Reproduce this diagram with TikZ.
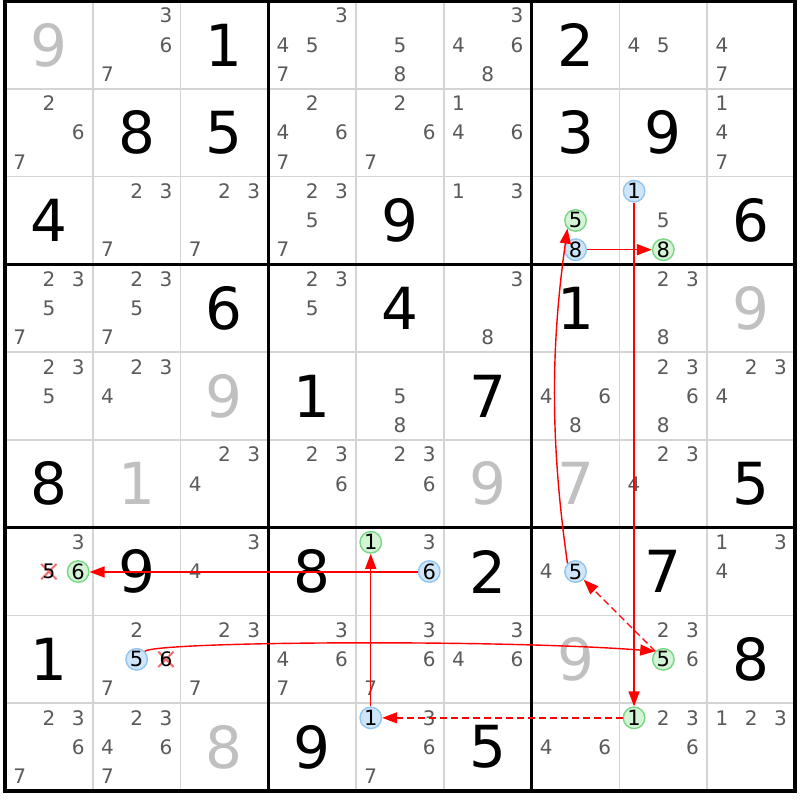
\documentclass[tikz,border=0pt]{standalone}
\usepackage{fontspec}
\setmainfont{DejaVu Sans}
\usetikzlibrary{arrows.meta}
\definecolor{candgray}{RGB}{90,90,90}
\definecolor{solvedgray}{RGB}{192,192,192}
\definecolor{gridgray}{RGB}{212,212,212}
\definecolor{bluefill}{RGB}{207,230,250}
\definecolor{blueline}{RGB}{145,198,240}
\definecolor{greenfill}{RGB}{212,244,214}
\definecolor{greenline}{RGB}{120,215,130}
\definecolor{crossred}{RGB}{240,110,110}
\definecolor{arrred}{RGB}{255,0,0}
\tikzset{
  cand/.style={inner sep=0pt, font=\fontsize{20}{20}\selectfont, text=candgray},
  given/.style={inner sep=0pt, font=\fontsize{58}{58}\selectfont, text=black},
  solved/.style={inner sep=0pt, font=\fontsize{58}{58}\selectfont, text=solvedgray},
  hibase/.style={circle, inner sep=0pt, minimum size=21.5pt, line width=1.4pt, font=\fontsize{21}{21}\selectfont, text=black},
  hiblue/.style={hibase, draw=blueline, fill=bluefill},
  higreen/.style={hibase, draw=greenline, fill=greenfill},
  crossbox/.style={inner sep=0pt, minimum size=15pt},
  crossd/.style={inner sep=0pt, font=\fontsize{20}{20}\selectfont, text=black},
  crossline/.style={draw=crossred, line width=2pt},
  thingrid/.style={draw=gridgray, line width=1.8pt},
  thickgrid/.style={draw=black, line width=3.6pt, line cap=rect},
  arr/.style={draw=arrred, line width=1.4pt, -{Triangle[length=15pt,width=11pt]}},
  dasharr/.style={dash pattern=on 7pt off 4pt}
}
\newcommand\candnodes[3]{%
  \foreach \d in {#3}{%
    \pgfmathsetmacro\px{5+#2*87.7778+14.6296+mod(\d-1,3)*29.2593}%
    \pgfmathsetmacro\py{1+#1*87.7778+14.6296+floor((\d-1)/3)*29.2593}%
    \node[cand] (k#1#2\d) at (\px,\py) {\d};
  }}
\newcommand\givennode[3]{%
  \pgfmathsetmacro\px{5+#2*87.7778+43.8889}%
  \pgfmathsetmacro\py{1+#1*87.7778+43.8889}%
  \node[given] (g#1#2) at (\px,\py) {#3};}
\newcommand\solvednode[3]{%
  \pgfmathsetmacro\px{5+#2*87.7778+43.8889}%
  \pgfmathsetmacro\py{1+#1*87.7778+43.8889}%
  \node[solved] (s#1#2) at (\px,\py) {#3};}
\newcommand\hinode[4]{%
  \pgfmathsetmacro\px{5+#2*87.7778+14.6296+mod(#3-1,3)*29.2593}%
  \pgfmathsetmacro\py{1+#1*87.7778+14.6296+floor((#3-1)/3)*29.2593}%
  \node[#4] (h#1#2#3) at (\px,\py) {#3};}
\newcommand\crossnode[3]{%
  \pgfmathsetmacro\px{5+#2*87.7778+14.6296+mod(#3-1,3)*29.2593}%
  \pgfmathsetmacro\py{1+#1*87.7778+14.6296+floor((#3-1)/3)*29.2593}%
  \node[crossbox] (xb#1#2#3) at (\px,\py) {};
  \draw[crossline] (xb#1#2#3.south west) -- (xb#1#2#3.north east)
                   (xb#1#2#3.north west) -- (xb#1#2#3.south east);
  \node[crossd] (x#1#2#3) at (xb#1#2#3.center) {#3};}
\begin{document}
\begin{tikzpicture}[x=1pt,y=-1pt]
\useasboundingbox (0,0) rectangle (800,800);
\fill[white] (0,0) rectangle (800,800);
% grid
\foreach \i in {1,2,4,5,7,8}{
  \draw[thingrid] (5+\i*87.7778,1) -- (5+\i*87.7778,791);
  \draw[thingrid] (5,1+\i*87.7778) -- (795,1+\i*87.7778);
}
\foreach \i in {0,3,6,9}{
  \draw[thickgrid] (5+\i*87.7778,1) -- (5+\i*87.7778,791);
  \draw[thickgrid] (5,1+\i*87.7778) -- (795,1+\i*87.7778);
}
% row 0
\solvednode{0}{0}{9} \candnodes{0}{1}{3,6,7} \givennode{0}{2}{1}
\candnodes{0}{3}{3,4,5,7} \candnodes{0}{4}{5,8} \candnodes{0}{5}{3,4,6,8}
\givennode{0}{6}{2} \candnodes{0}{7}{4,5} \candnodes{0}{8}{4,7}
% row 1
\candnodes{1}{0}{2,6,7} \givennode{1}{1}{8} \givennode{1}{2}{5}
\candnodes{1}{3}{2,4,6,7} \candnodes{1}{4}{2,6,7} \candnodes{1}{5}{1,4,6}
\givennode{1}{6}{3} \givennode{1}{7}{9} \candnodes{1}{8}{1,4,7}
% row 2
\givennode{2}{0}{4} \candnodes{2}{1}{2,3,7} \candnodes{2}{2}{2,3,7}
\candnodes{2}{3}{2,3,5,7} \givennode{2}{4}{9} \candnodes{2}{5}{1,3}
\hinode{2}{6}{5}{higreen} \hinode{2}{6}{8}{hiblue}
\hinode{2}{7}{1}{hiblue} \candnodes{2}{7}{5} \hinode{2}{7}{8}{higreen}
\givennode{2}{8}{6}
% row 3
\candnodes{3}{0}{2,3,5,7} \candnodes{3}{1}{2,3,5,7} \givennode{3}{2}{6}
\candnodes{3}{3}{2,3,5} \givennode{3}{4}{4} \candnodes{3}{5}{3,8}
\givennode{3}{6}{1} \candnodes{3}{7}{2,3,8} \solvednode{3}{8}{9}
% row 4
\candnodes{4}{0}{2,3,5} \candnodes{4}{1}{2,3,4} \solvednode{4}{2}{9}
\givennode{4}{3}{1} \candnodes{4}{4}{5,8} \givennode{4}{5}{7}
\candnodes{4}{6}{4,6,8} \candnodes{4}{7}{2,3,6,8} \candnodes{4}{8}{2,3,4}
% row 5
\givennode{5}{0}{8} \solvednode{5}{1}{1} \candnodes{5}{2}{2,3,4}
\candnodes{5}{3}{2,3,6} \candnodes{5}{4}{2,3,6} \solvednode{5}{5}{9}
\solvednode{5}{6}{7} \candnodes{5}{7}{2,3,4} \givennode{5}{8}{5}
% row 6
\candnodes{6}{0}{3} \crossnode{6}{0}{5} \hinode{6}{0}{6}{higreen}
\givennode{6}{1}{9} \candnodes{6}{2}{3,4} \givennode{6}{3}{8}
\hinode{6}{4}{1}{higreen} \candnodes{6}{4}{3} \hinode{6}{4}{6}{hiblue}
\givennode{6}{5}{2} \candnodes{6}{6}{4} \hinode{6}{6}{5}{hiblue}
\givennode{6}{7}{7} \candnodes{6}{8}{1,3,4}
% row 7
\givennode{7}{0}{1} \candnodes{7}{1}{2,7} \hinode{7}{1}{5}{hiblue} \crossnode{7}{1}{6}
\candnodes{7}{2}{2,3,7} \candnodes{7}{3}{3,4,6,7} \candnodes{7}{4}{3,6,7}
\candnodes{7}{5}{3,4,6} \solvednode{7}{6}{9} \candnodes{7}{7}{2,3,6}
\hinode{7}{7}{5}{higreen} \givennode{7}{8}{8}
% row 8
\candnodes{8}{0}{2,3,6,7} \candnodes{8}{1}{2,3,4,6,7} \solvednode{8}{2}{8}
\givennode{8}{3}{9} \hinode{8}{4}{1}{hiblue} \candnodes{8}{4}{3,6,7}
\givennode{8}{5}{5} \candnodes{8}{6}{4,6} \hinode{8}{7}{1}{higreen}
\candnodes{8}{7}{2,3,6} \candnodes{8}{8}{1,2,3}
% arrows
\draw[arr] ([yshift=-0.4pt]h646.west) -- ([yshift=-0.4pt]h606.east);
\draw[arr] (h268) -- (h278);
\draw[arr] (h271) -- (h871);
\draw[arr, dasharr] (h871) -- (h841);
\draw[arr] (h841) -- (h641);
\draw[arr] (h715.45) .. controls +(13,-10) and +(-153,-12) .. (h775.135);
\draw[arr, dasharr] (h775) -- (h665);
\draw[arr] (h665.135) .. controls +(-17,-120) and +(-17,120) .. (h265.225);
\end{tikzpicture}
\end{document}
